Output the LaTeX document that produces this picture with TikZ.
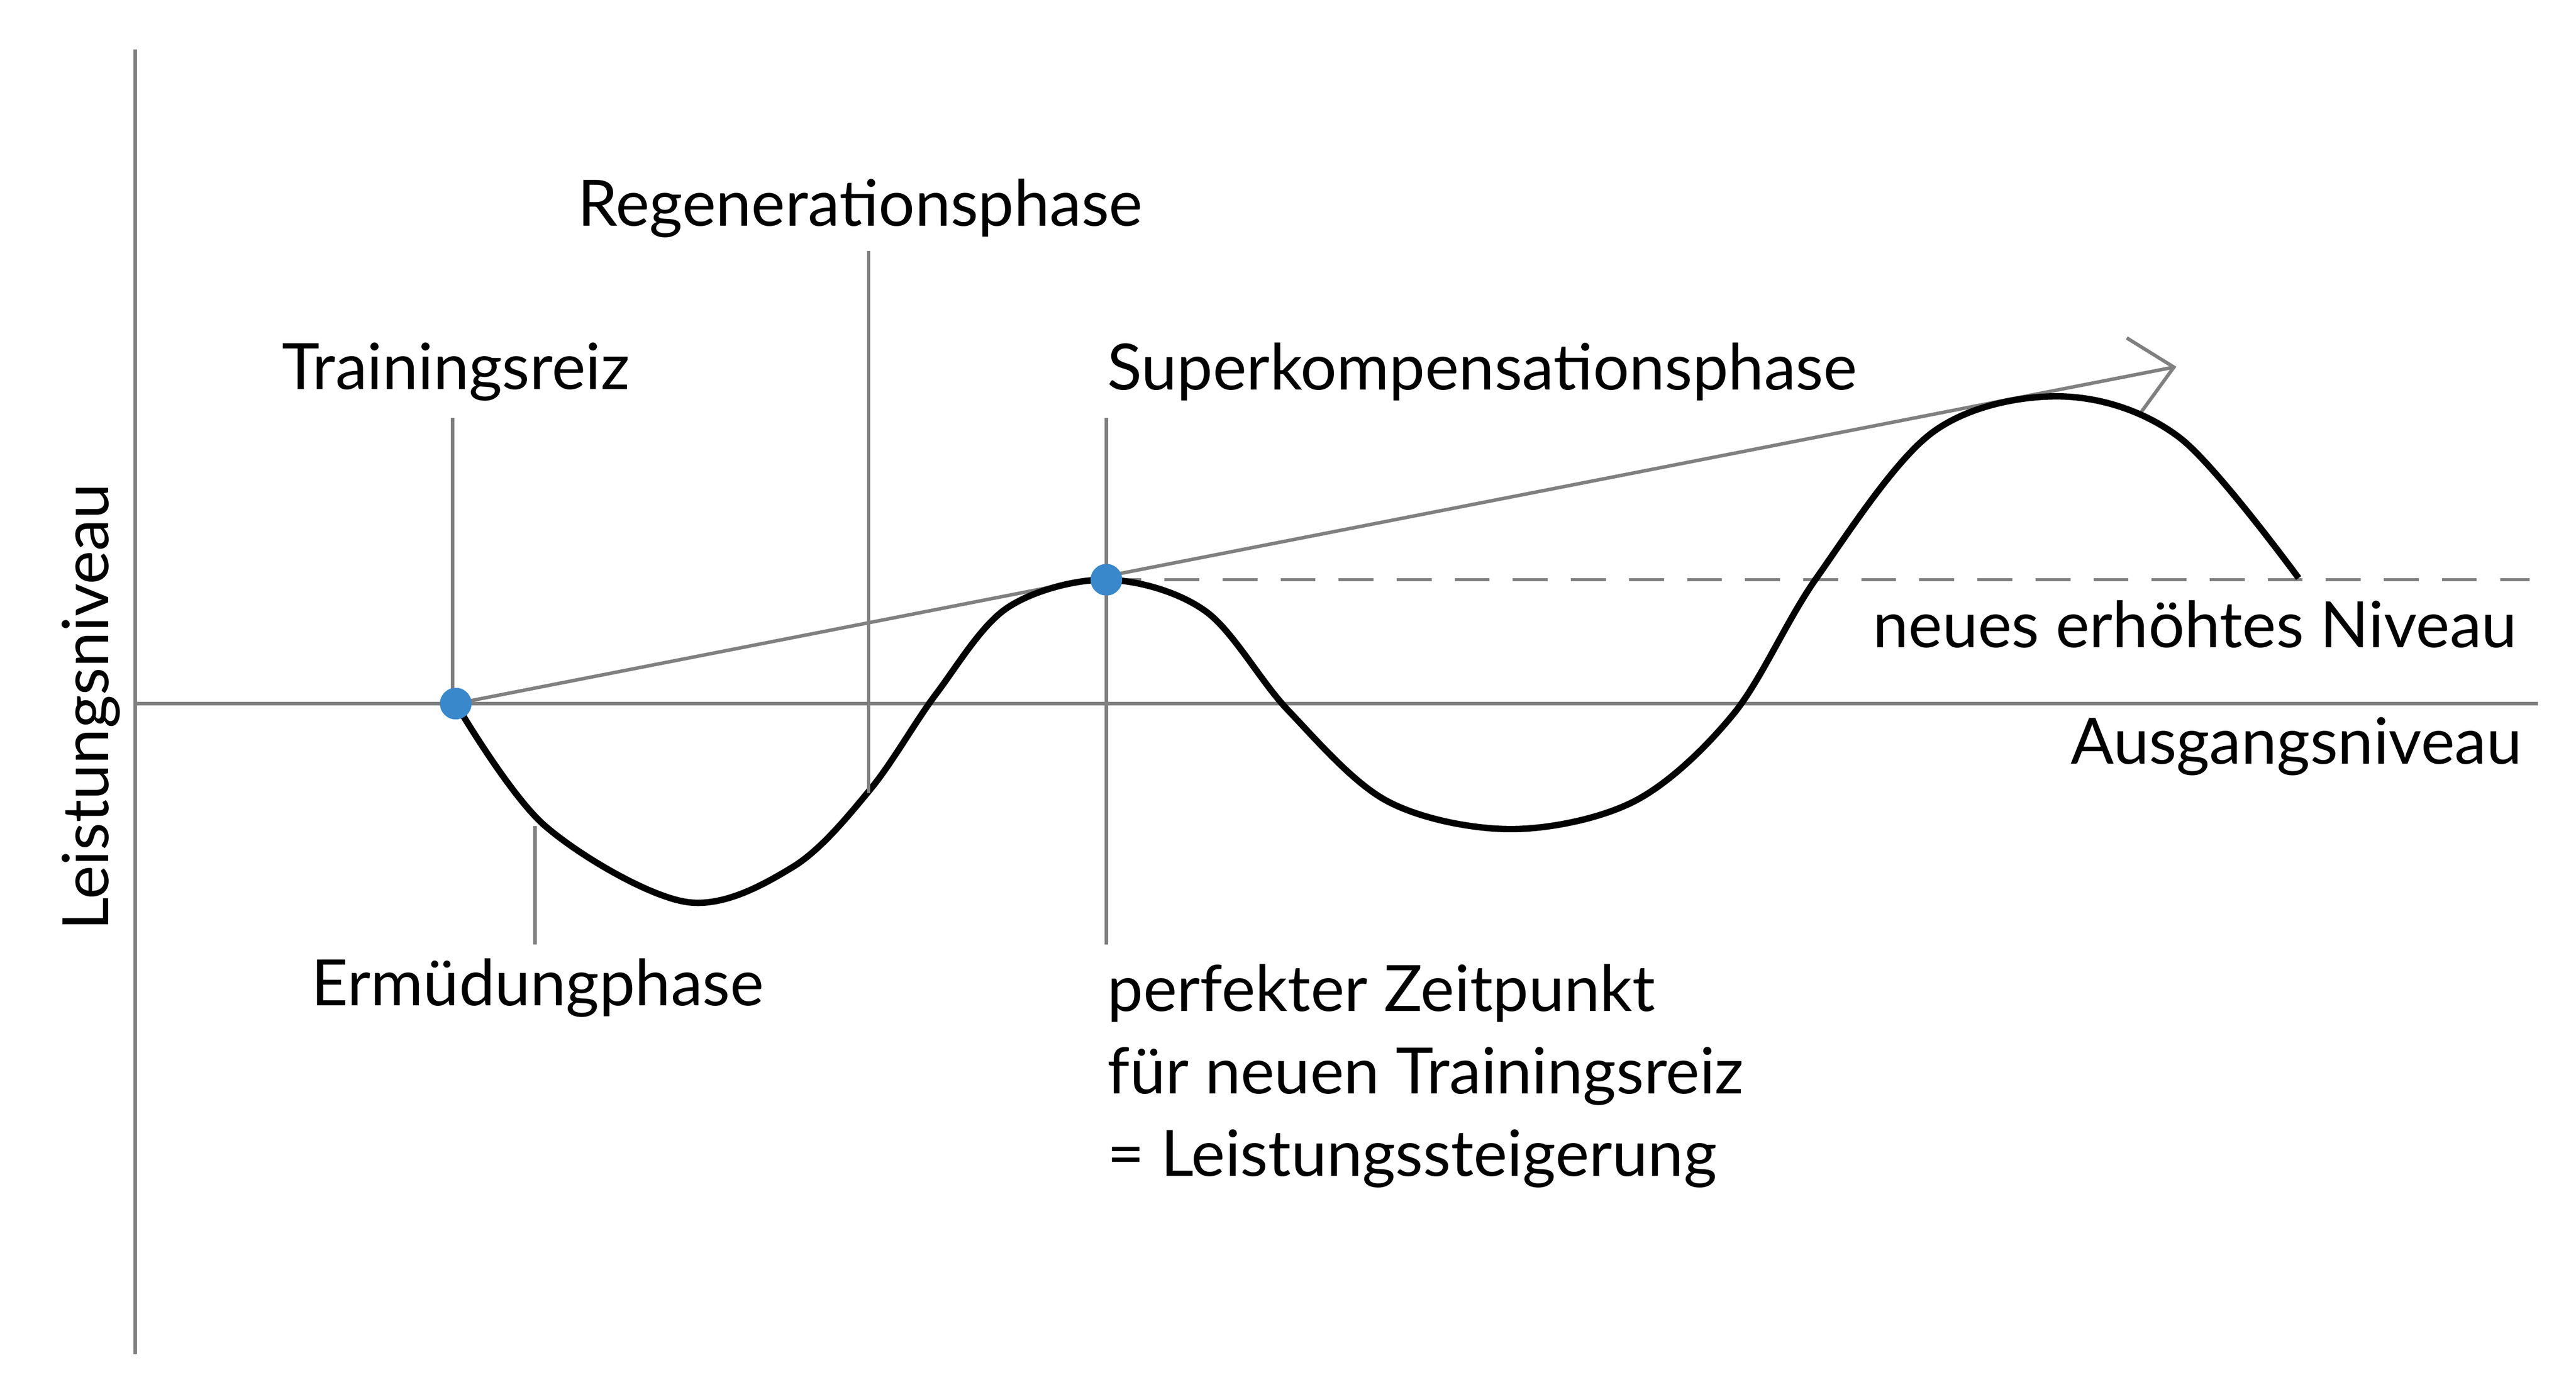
\documentclass[tikz,border=0pt]{standalone}
\usepackage{fontspec}
\setmainfont{Lato}
\usetikzlibrary{arrows.meta}
\definecolor{axg}{HTML}{808080}
\definecolor{dotb}{HTML}{3A88CC}
\tikzset{
  gl/.style={draw=axg, line width=0.6pt},
  lbl/.style={font=\fontsize{11}{13}\selectfont, inner sep=0pt},
  dotn/.style={circle, fill=dotb, inner sep=0pt, minimum size=0.19cm},
}
\begin{document}
\begin{tikzpicture}[x=0.01cm, y=-0.01cm]
\useasboundingbox (0,0) rectangle (1560,847);
% axes
\coordinate (ytop) at (82,30); \coordinate (ybot) at (82,820);
\coordinate (xl) at (82,426); \coordinate (xr) at (1537,426);
\draw[gl] (ytop) -- (ybot);
\draw[gl] (xl) -- (xr);
% dots
\node[dotn] (d1) at (276,426) {};
\node[dotn] (d2) at (670,351) {};
\coordinate (atip) at (1318,222);
\coordinate (dend) at (1532,351);
\draw[gl, -{Straight Barb[length=7pt,width=13pt]}] (d1.center) -- (atip);
\draw[gl, dashed, dash pattern=on 6pt off 4pt] (d2.center) -- (dend);
% curve
\draw[black, line width=1.1pt] plot[smooth, tension=0.55] coordinates {
 (276,426) (330,500) (415,546) (480,525) (527,478) (567,420) (610,368) (670,351)
 (730,370) (780,430) (840,485) (915,502) (990,485) (1050,432) (1100,350)
 (1170,262) (1248,240) (1320,265) (1392,350)};
\draw[black, line width=1.1pt, fill=none] (276,426) -- (276,426);
\node[dotn] at (276,426) {};
\node[dotn] at (670,351) {};
% labels
\node[lbl, anchor=west] (t1) at (170,225) {Trainingsreiz};
\node[lbl] (t2) at (521,126) {Regenerationsphase};
\node[lbl, anchor=west] (t3) at (670,225) {Superkompensationsphase};
\node[lbl, anchor=west] (t4) at (188,598) {Ermüdungphase};
\node[lbl, anchor=north west, align=left, font=\fontsize{11}{14.2pt}\selectfont] (t5) at (670,583) {perfekter Zeitpunkt\\für neuen Trainingsreiz\\= Leistungssteigerung};
\node[lbl, anchor=east] (t6) at (1525,378) {neues erhöhtes Niveau};
\node[lbl, anchor=east] (t7) at (1528,452) {Ausgangsniveau};
\node[lbl, rotate=90] (t8) at (55,428) {Leistungsniveau};
% markers
\coordinate (m1a) at (274,253); \coordinate (m1b) at (274,426);
\coordinate (m2a) at (526,152); \coordinate (m2b) at (526,480);
\coordinate (m3a) at (670,253); \coordinate (m3b) at (670,572);
\coordinate (m4a) at (324,500); \coordinate (m4b) at (324,572);
\draw[gl] (m1a) -- (m1b);
\draw[gl] (m2a) -- (m2b);
\draw[gl] (m3a) -- (m3b);
\draw[gl] (m4a) -- (m4b);
\node[dotn] at (276,426) {};
\node[dotn] at (670,351) {};
\end{tikzpicture}
\end{document}
